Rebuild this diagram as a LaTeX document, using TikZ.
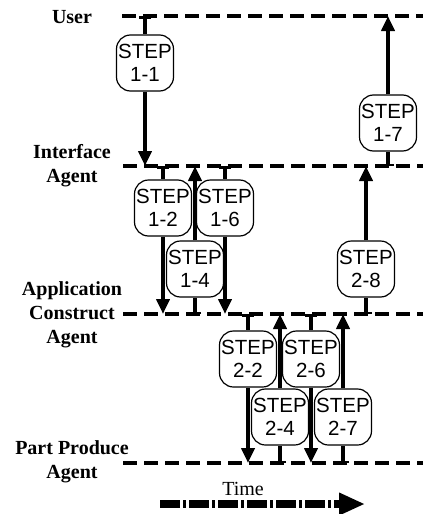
\documentclass[tikz,border=0pt]{standalone}
\usepackage{fontspec}
\setmainfont{Liberation Serif}
\setsansfont{Liberation Sans}
\usetikzlibrary{arrows.meta, positioning}
\newcommand{\linecolor}{black}
\newcommand{\boxcolor}{white}

\begin{document}
\begin{tikzpicture}[
      % GLOBAL CFG
      x=1pt, y=-1pt,
      font=\sffamily,
      % Styles
      agent/.style={% For agent names
        align=center,
        inner sep=0pt,
        font=\rmfamily\bfseries\fontsize{20}{24}\selectfont
      },
      lane/.style={% For time lines of the agents
        draw=\linecolor,
        line width=3.5pt,
        dash pattern=on 14pt off 7pt
      },
      stepbox/.style={% For steps
        rectangle,
        rounded corners=14pt,
        draw,
        line width=1.2pt,
        fill=\boxcolor,
        minimum width=57pt,
        minimum height=56pt,
        inner sep=0.5pt,
        align=center,
        font=\sffamily\fontsize{20.5}{23}\selectfont
      },
      msgtail/.style={% Arrows for messages, first half
        line width=4pt,
        {Bar[width=12pt,line width=2.5pt]}-
      },
      msghead/.style={% Arrows for messages, second half
        line width=4pt,
        -{Triangle[length=15pt,width=13pt]}
      },
      timearrow/.style={% Arrow for time
        line width=8pt,
        dash pattern=on 20pt off 3pt on 3pt off 3pt,
        -{Triangle[length=26pt,width=21pt]}
      }
      ]
      \useasboundingbox (0,0) rectangle (423,514);

      % Agents and their time lines
      \node [agent] (user) at (72,17) {User};
      \node [agent] (iface) at (72,166) {Interface\\Agent};
      \node [agent] (appagent) at (72,315) {Application\\Construct\\Agent};
      \node [agent] (partagent) at (72,462) {Part Produce\\Agent};

      \coordinate (userL) at (122,16);
      \coordinate (userR) at (423,16);
      \coordinate (ifaceL) at (123,166);
      \coordinate (ifaceR) at (423,166);
      \coordinate (appL) at (123,314);
      \coordinate (appR) at (423,314);
      \coordinate (partL) at (123,463);
      \coordinate (partR) at (423,463);
      \draw [lane] (userL) -- (userR);
      \draw [lane] (ifaceL) -- (ifaceR);
      \draw [lane] (appL) -- (appR);
      \draw [lane] (partL) -- (partR);

      % Steps between user and interface agent
      \node [stepbox] (s11) at (145,63) {STEP\\1-1};
      \draw [msgtail] (s11 |- userL) -- (s11);
      \draw [msghead] (s11) -- (s11 |- ifaceL);

      \node [stepbox] (s17) at (388,123) {STEP\\1-7};
      \draw [msgtail] (s17 |- ifaceL) -- (s17);
      \draw [msghead] (s17) -- (s17 |- userL);

      % Steps between interface agent and application construct agent
      \node [stepbox] (s12) at (163,208) {STEP\\1-2};
      \draw [msgtail] (s12 |- ifaceL) -- (s12);
      \draw [msghead] (s12) -- (s12 |- appL);

      \node [stepbox] (s14) at (195,269) {STEP\\1-4};
      \draw [msgtail] (s14 |- appL) -- (s14);
      \draw [msghead] (s14) -- (s14 |- ifaceL);

      \node [stepbox] (s16) at (225,208) {STEP\\1-6};
      \draw [msgtail] (s16 |- ifaceL) -- (s16);
      \draw [msghead] (s16) -- (s16 |- appL);

      \node [stepbox] (s28) at (366,269) {STEP\\2-8};
      \draw [msgtail] (s28 |- appL) -- (s28);
      \draw [msghead] (s28) -- (s28 |- ifaceL);

      % Steps between application construct agent and part produce agent
      \node [stepbox] (s22) at (248,359) {STEP\\2-2};
      \draw [msgtail] (s22 |- appL) -- (s22);
      \draw [msghead] (s22) -- (s22 |- partL);

      \node [stepbox] (s24) at (280,417) {STEP\\2-4};
      \draw [msgtail] (s24 |- partL) -- (s24);
      \draw [msghead] (s24) -- (s24 |- appL);

      \node [stepbox] (s26) at (311,359) {STEP\\2-6};
      \draw [msgtail] (s26 |- appL) -- (s26);
      \draw [msghead] (s26) -- (s26 |- partL);

      \node [stepbox] (s27) at (343,417) {STEP\\2-7};
      \draw [msgtail] (s27 |- partL) -- (s27);
      \draw [msghead] (s27) -- (s27 |- appL);

      % Time axis
      \node [font=\rmfamily\fontsize{20}{24}\selectfont] (time) at (243,489) {Time};
      \coordinate (timeL) at (160,504);
      \coordinate (timeR) at (365,504);
      \draw [timearrow] (timeL) -- (timeR);

    \end{tikzpicture}
\end{document}
